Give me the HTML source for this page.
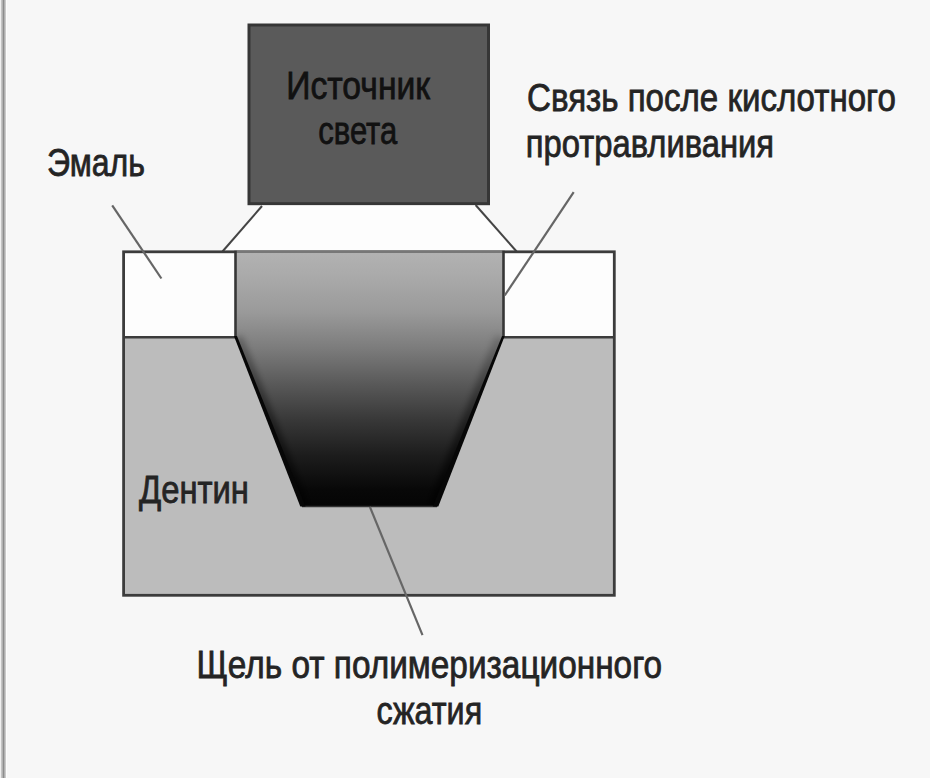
<!DOCTYPE html>
<html><head><meta charset="utf-8">
<style>
html,body{margin:0;padding:0;}
body{width:930px;height:778px;overflow:hidden;background:#f7f7f7;position:relative;}
svg{position:absolute;left:0;top:0;}
text{font-family:"Liberation Sans",sans-serif;}
</style></head><body>
<svg width="930" height="778" viewBox="0 0 930 778">
<defs>
<linearGradient id="cav" x1="0" y1="251.8" x2="0" y2="506.5" gradientUnits="userSpaceOnUse">
<stop offset="0" stop-color="#b2b2b2"/>
<stop offset="0.095" stop-color="#aaaaaa"/>
<stop offset="0.236" stop-color="#9a9a9a"/>
<stop offset="0.377" stop-color="#7c7c7c"/>
<stop offset="0.519" stop-color="#595959"/>
<stop offset="0.66" stop-color="#383838"/>
<stop offset="0.801" stop-color="#1c1c1c"/>
<stop offset="0.935" stop-color="#080808"/>
<stop offset="1" stop-color="#050505"/>
</linearGradient>
<clipPath id="cavclip"><polygon points="235.5,251.8 503.5,251.8 503.5,337 437,506.5 302,506.5 235.5,337"/></clipPath>
<linearGradient id="shR" x1="0" y1="337" x2="0" y2="506.5" gradientUnits="userSpaceOnUse"><stop offset="0" stop-color="#000" stop-opacity="0.15"/><stop offset="1" stop-color="#000" stop-opacity="0.7"/></linearGradient>
<linearGradient id="shL" x1="0" y1="337" x2="0" y2="506.5" gradientUnits="userSpaceOnUse"><stop offset="0" stop-color="#000" stop-opacity="0.25"/><stop offset="1" stop-color="#000" stop-opacity="0.6"/></linearGradient>
<filter id="blur3" x="-20%" y="-20%" width="140%" height="140%"><feGaussianBlur stdDeviation="3"/></filter>
</defs>
<!-- left border -->
<rect x="0" y="0" width="1" height="778" fill="#efefef"/>
<rect x="1" y="0" width="1" height="778" fill="#c4c4c4"/>
<rect x="2" y="0" width="1" height="778" fill="#b2b2b2"/>
<rect x="3" y="0" width="1" height="778" fill="#8c8c8c"/>
<rect x="4" y="0" width="1" height="778" fill="#b0b0b0"/>
<rect x="5" y="0" width="1" height="778" fill="#cacaca"/>
<rect x="6" y="0" width="1" height="778" fill="#fcfcfc"/>
<!-- light source box -->
<rect x="249" y="25" width="239.5" height="178.7" fill="#5a5a5a" stroke="#363636" stroke-width="3"/>
<!-- cone -->
<polygon points="262,205.5 475.6,205.5 516.6,251.5 222.5,251.5" fill="#fdfdfd"/>
<!-- cone lines -->
<line x1="262" y1="206" x2="222.5" y2="251.5" stroke="#444" stroke-width="2"/>
<line x1="475.6" y1="205" x2="516.6" y2="251.5" stroke="#444" stroke-width="2"/>
<!-- tooth -->
<rect x="123.6" y="251.8" width="490.7" height="85.4" fill="#fdfdfd"/>
<rect x="123.6" y="337.2" width="490.7" height="258.1" fill="#bcbcbc"/>
<rect x="123.6" y="251.8" width="490.7" height="343.5" fill="none" stroke="#3c3c3c" stroke-width="2.8"/>
<line x1="123.6" y1="337.2" x2="614.3" y2="337.2" stroke="#3c3c3c" stroke-width="2.4"/>
<!-- cavity -->
<polygon points="235.5,251.8 503.5,251.8 503.5,337 437,506.5 302,506.5 235.5,337" fill="url(#cav)"/>
<g clip-path="url(#cavclip)">
<line x1="501" y1="337" x2="434" y2="506.5" stroke="url(#shR)" stroke-width="12" filter="url(#blur3)"/>
<line x1="238" y1="337" x2="305" y2="506.5" stroke="url(#shL)" stroke-width="9" filter="url(#blur3)"/>
</g>
<line x1="235.5" y1="251.8" x2="503.5" y2="251.8" stroke="#777" stroke-width="2.2"/>
<line x1="235.5" y1="250.7" x2="235.5" y2="337.5" stroke="#363636" stroke-width="2.6"/>
<line x1="503.5" y1="250.7" x2="503.5" y2="337.5" stroke="#363636" stroke-width="2.6"/>
<line x1="302" y1="506.5" x2="437" y2="506.5" stroke="#333" stroke-width="1.5"/>
<polygon points="504.7,336 438.3,506.5 432.8,506.5 502.0,336" fill="#070707"/>
<polygon points="233.9,336 300.3,506.5 305.5,506.5 237.0,336" fill="#070707"/>
<!-- leader lines -->
<line x1="112.2" y1="205.3" x2="161.4" y2="278.5" stroke="#666" stroke-width="2.2"/>
<line x1="573.7" y1="192.2" x2="504.7" y2="295.5" stroke="#666" stroke-width="2.2"/>
<line x1="369.9" y1="506.9" x2="422.5" y2="635.1" stroke="#666" stroke-width="2.2"/>
<!-- text -->
<g fill="#242424" stroke="#242424" stroke-width="0.8" font-size="39">
<text x="46.99" y="175.5" textLength="98.0" lengthAdjust="spacingAndGlyphs">Эмаль</text>
<text x="286.2" y="99.0" textLength="143.9" lengthAdjust="spacingAndGlyphs" fill="#111" stroke="#111">Источник</text>
<text x="318.27" y="144.0" textLength="78.93" lengthAdjust="spacingAndGlyphs" fill="#111" stroke="#111">света</text>
<text x="527.04" y="110.6" textLength="368.83" lengthAdjust="spacingAndGlyphs">Связь после кислотного</text>
<text x="525.86" y="156.7" textLength="248.23" lengthAdjust="spacingAndGlyphs">протравливания</text>
<text x="138.95" y="502.5" textLength="110.0" lengthAdjust="spacingAndGlyphs">Дентин</text>
<text x="196.57" y="678.4" textLength="465.61" lengthAdjust="spacingAndGlyphs">Щель от полимеризационного</text>
<text x="376.38" y="723.8" textLength="105.81" lengthAdjust="spacingAndGlyphs">сжатия</text>
</g>
</svg>
</body></html>
